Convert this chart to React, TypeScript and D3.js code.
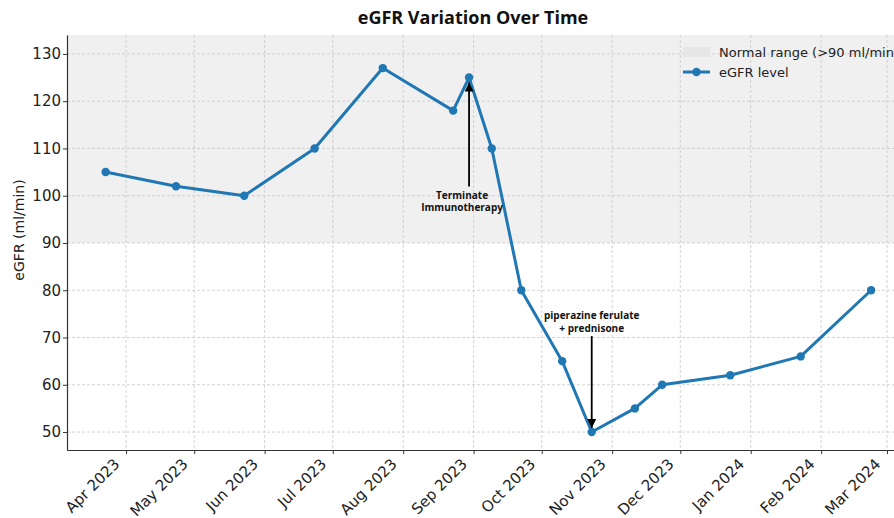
import React, { useEffect, useRef } from "react";
import * as d3 from "d3";

// eGFR readings
const dates = [
  "2023-03-23", "2023-04-23", "2023-05-23", "2023-06-23", "2023-07-23",
  "2023-08-23", "2023-08-30", "2023-09-09", "2023-09-22", "2023-10-10",
  "2023-10-23", "2023-11-11", "2023-11-23", "2023-12-23", "2024-01-23",
  "2024-02-23",
];
const egfr = [105, 102, 100, 110, 127, 118, 125, 110, 80, 65, 50, 55, 60, 62, 66, 80];
const yTicks = [50, 60, 70, 80, 90, 100, 110, 120, 130];
const normalThreshold = 90;

const notes = [
  { date: "2023-08-30", value: 125, lines: ["Terminate", "Immunotherapy"], dir: "up" },
  { date: "2023-10-23", value: 50, lines: ["piperazine ferulate", "+ prednisone"], dir: "down" },
];

const width = 894;
const height = 518;
const margin = { top: 35, left: 67, bottom: 450 };
const blue = "#1f77b4";

const App = () => {
  const ref = useRef<SVGSVGElement>(null);

  useEffect(() => {
    const svg = d3.select(ref.current);
    svg.selectAll("*").remove();

    const parse = d3.timeParse("%Y-%m-%d");
    const data = dates.map((d, i) => ({ date: parse(d) as Date, value: egfr[i] }));

    const x = d3
      .scaleTime()
      .domain([new Date(2023, 2, 6), new Date(2024, 2, 12)])
      .range([margin.left, 912]);
    const y = d3.scaleLinear().domain([46.2, 134]).range([margin.bottom, margin.top]);

    // normal range band
    svg
      .append("rect")
      .attr("x", margin.left)
      .attr("y", y(134))
      .attr("width", width - margin.left)
      .attr("height", y(normalThreshold) - y(134))
      .attr("fill", "#f0f0f0");

    const monthTicks = d3.timeMonth.range(new Date(2023, 3, 1), new Date(2024, 2, 2));

    // grid
    const grid = svg.append("g").attr("stroke", "#c8c8c8").attr("stroke-width", 0.8).attr("stroke-dasharray", "3,2");
    grid
      .selectAll(".vg")
      .data(monthTicks)
      .enter()
      .append("line")
      .attr("x1", (d) => x(d))
      .attr("x2", (d) => x(d))
      .attr("y1", margin.top)
      .attr("y2", margin.bottom);
    grid
      .selectAll(".hg")
      .data(yTicks)
      .enter()
      .append("line")
      .attr("x1", margin.left)
      .attr("x2", width)
      .attr("y1", (d) => y(d))
      .attr("y2", (d) => y(d));

    // axes
    const xAxis = svg
      .append("g")
      .attr("transform", `translate(0,${margin.bottom})`)
      .call(
        d3
          .axisBottom(x)
          .tickValues(monthTicks)
          .tickSize(4)
          .tickSizeOuter(0)
          .tickFormat((d) => d3.timeFormat("%b %Y")(d as Date))
      );
    xAxis.select(".domain").attr("stroke", "#333").attr("stroke-width", 1.2);
    xAxis.selectAll(".tick line").attr("stroke", "#333");
    xAxis
      .selectAll("text")
      .attr("font-family", "DejaVu Sans")
      .attr("font-size", 15)
      .attr("fill", "#222")
      .attr("x", 0)
      .attr("y", 0)
      .attr("dy", 0)
      .style("text-anchor", "end")
      .attr("transform", "translate(-6,15)rotate(-45)");

    const yAxis = svg
      .append("g")
      .attr("transform", `translate(${margin.left},0)`)
      .call(d3.axisLeft(y).tickValues(yTicks).tickSize(4).tickSizeOuter(0).tickPadding(2));
    yAxis.select(".domain").attr("stroke", "#333").attr("stroke-width", 1.2);
    yAxis.selectAll(".tick line").attr("stroke", "#333");
    yAxis
      .selectAll("text")
      .attr("font-family", "DejaVu Sans")
      .attr("font-size", 15)
      .attr("fill", "#222");

    svg
      .append("text")
      .attr("transform", `translate(24,230)rotate(-90)`)
      .attr("text-anchor", "middle")
      .attr("font-family", "DejaVu Sans")
      .attr("font-size", 14)
      .attr("fill", "#222")
      .text("eGFR (ml/min)");

    // title
    svg
      .append("text")
      .attr("x", 473)
      .attr("y", 23.5)
      .attr("text-anchor", "middle")
      .attr("font-family", "Open Sans")
      .attr("font-weight", "bold")
      .attr("font-size", 18)
      .attr("fill", "#111")
      .text("eGFR Variation Over Time");

    // line
    const line = d3
      .line<{ date: Date; value: number }>()
      .x((d) => x(d.date))
      .y((d) => y(d.value));
    svg
      .append("path")
      .datum(data)
      .attr("d", line)
      .attr("fill", "none")
      .attr("stroke", blue)
      .attr("stroke-width", 3)
      .attr("stroke-linejoin", "round");
    svg
      .selectAll(".pt")
      .data(data)
      .enter()
      .append("circle")
      .attr("cx", (d) => x(d.date))
      .attr("cy", (d) => y(d.value))
      .attr("r", 4.2)
      .attr("fill", blue);

    // annotations
    const defs = svg.append("defs");
    defs
      .append("marker")
      .attr("id", "arrowhead")
      .attr("viewBox", "0 0 10 10")
      .attr("refX", 10)
      .attr("refY", 5)
      .attr("markerWidth", 5)
      .attr("markerHeight", 5)
      .attr("orient", "auto")
      .append("path")
      .attr("d", "M0,0 L10,5 L0,10 z")
      .attr("fill", "#000");

    notes.forEach((n) => {
      const px = x(parse(n.date) as Date);
      const py = y(n.value);
      const up = n.dir === "up";
      const tailY = up ? py + 109 : py - 96;
      const tipY = up ? py + 5 : py - 4;
      svg
        .append("line")
        .attr("x1", px)
        .attr("x2", px)
        .attr("y1", tailY)
        .attr("y2", tipY)
        .attr("stroke", "#000")
        .attr("stroke-width", 1.8)
        .attr("marker-end", "url(#arrowhead)");
      const t = svg
        .append("text")
        .attr("text-anchor", "middle")
        .attr("font-family", "Open Sans")
        .attr("font-weight", "bold")
        .attr("font-size", 10)
        .attr("fill", "#111");
      const baseY = up ? tailY + 12 : tailY - 17;
      n.lines.forEach((l, i) => {
        t.append("tspan")
          .attr("x", px - (up ? 7 : 0))
          .attr("y", baseY + i * 12.5)
          .text(l);
      });
    });

    // legend
    const lg = svg.append("g").attr("transform", "translate(683,47)");
    lg.append("rect").attr("x", 0).attr("y", 0).attr("width", 27).attr("height", 10).attr("fill", "#e6e6e6");
    lg.append("line").attr("x1", 0).attr("x2", 27).attr("y1", 25).attr("y2", 25).attr("stroke", blue).attr("stroke-width", 3);
    lg.append("circle").attr("cx", 13.5).attr("cy", 25).attr("r", 4.2).attr("fill", blue);
    lg.append("text")
      .attr("x", 36)
      .attr("y", 10)
      .attr("font-family", "DejaVu Sans")
      .attr("font-size", 13)
      .attr("fill", "#222")
      .text("Normal range (>90 ml/min)");
    lg.append("text")
      .attr("x", 36)
      .attr("y", 30)
      .attr("font-family", "DejaVu Sans")
      .attr("font-size", 13)
      .attr("fill", "#222")
      .text("eGFR level");
  }, []);

  return (
    <svg
      ref={ref}
      width={width}
      height={height}
      style={{ position: "absolute", left: 0, top: 0, background: "#fff" }}
    />
  );
};

export default App;
